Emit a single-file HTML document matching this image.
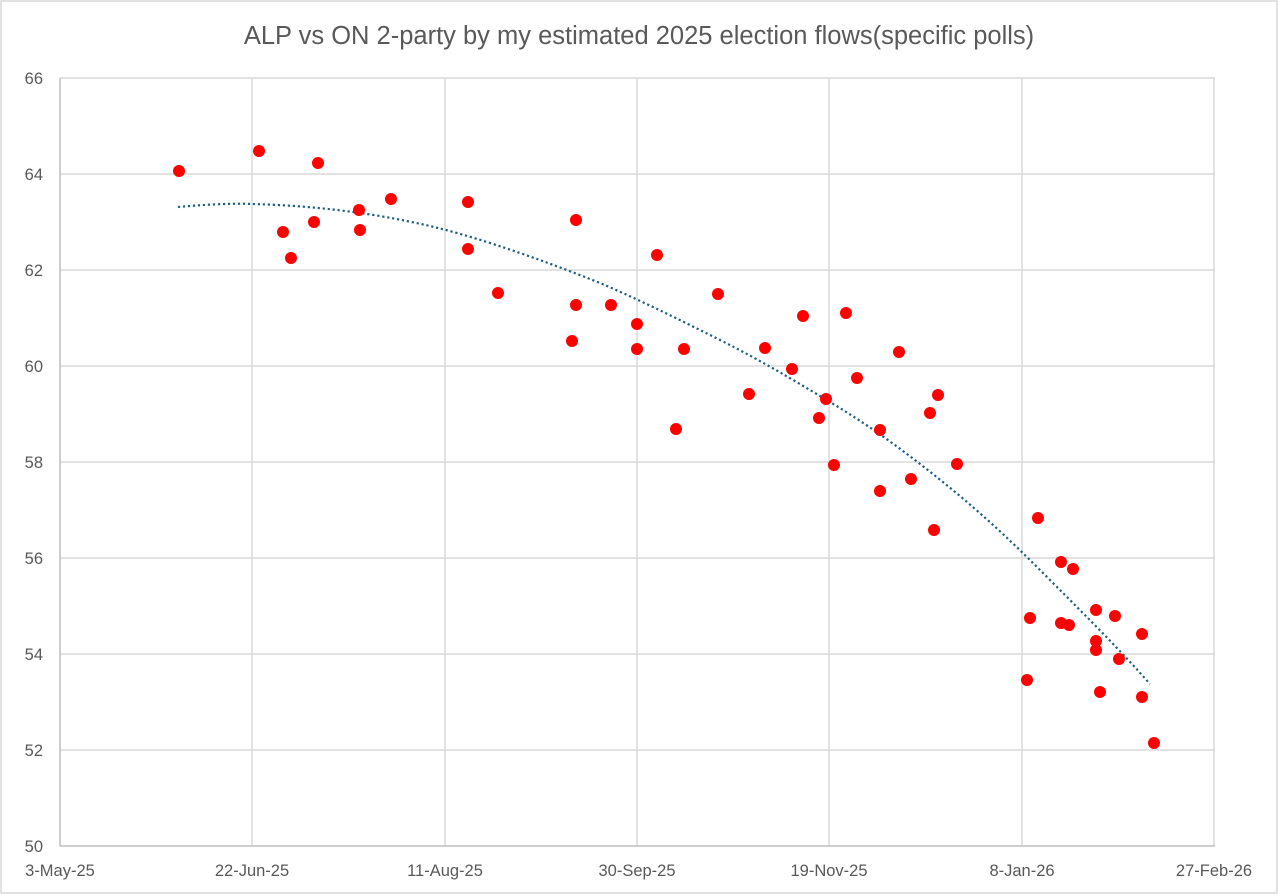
<!DOCTYPE html>
<html><head><meta charset="utf-8"><style>
body{margin:0;background:#fff}
svg{display:block;font-family:"Liberation Sans",sans-serif}
</style></head><body>
<svg width="1278" height="895" viewBox="0 0 1278 895">
<rect x="1" y="1" width="1276" height="892" fill="#fff" stroke="#d9d9d9" stroke-width="1.5"/>
<text x="639" y="44" text-anchor="middle" font-size="25.5" fill="#595959">ALP vs ON 2-party by my estimated 2025 election flows(specific polls)</text>
<g stroke="#d9d9d9" stroke-width="1.5" fill="none">
<line x1="60" y1="78" x2="1215" y2="78"/><line x1="60" y1="174" x2="1215" y2="174"/>
<line x1="60" y1="270" x2="1215" y2="270"/><line x1="60" y1="366" x2="1215" y2="366"/>
<line x1="60" y1="462" x2="1215" y2="462"/><line x1="60" y1="558" x2="1215" y2="558"/>
<line x1="60" y1="654" x2="1215" y2="654"/><line x1="60" y1="750" x2="1215" y2="750"/>
<line x1="252" y1="78" x2="252" y2="846"/><line x1="445" y1="78" x2="445" y2="846"/>
<line x1="637" y1="78" x2="637" y2="846"/><line x1="829" y1="78" x2="829" y2="846"/>
<line x1="1022" y1="78" x2="1022" y2="846"/><line x1="1214" y1="78" x2="1214" y2="846"/>
</g>
<g stroke="#bfbfbf" stroke-width="1.5"><line x1="60" y1="78" x2="60" y2="846"/><line x1="60" y1="846" x2="1215" y2="846"/></g>
<g font-size="16.5" fill="#595959" text-anchor="end">
<text x="43" y="84">66</text><text x="43" y="180">64</text><text x="43" y="276">62</text><text x="43" y="372">60</text>
<text x="43" y="468">58</text><text x="43" y="564">56</text><text x="43" y="660">54</text><text x="43" y="756">52</text><text x="43" y="852">50</text>
</g>
<g font-size="16.5" fill="#595959" text-anchor="middle">
<text x="60" y="876">3-May-25</text><text x="252" y="876">22-Jun-25</text><text x="445" y="876">11-Aug-25</text>
<text x="637" y="876">30-Sep-25</text><text x="829" y="876">19-Nov-25</text><text x="1022" y="876">8-Jan-26</text><text x="1214" y="876">27-Feb-26</text>
</g>
<path d="M178,207 C200,205 230,203 252,204 C290,205 330,208 380,216 C420,223 450,230 490,243 C530,256 560,267 600,283 C640,300 680,320 720,340 C760,360 790,378 830,402 C880,432 920,463 960,496 C1000,530 1020,550 1050,580 C1090,620 1120,650 1150,684" fill="none" stroke="#1f5f7f" stroke-width="2.2" stroke-dasharray="2.2 2.8"/>
<g fill="#ff0000">
<circle cx="179" cy="171" r="6"/><circle cx="259" cy="151" r="6"/><circle cx="283" cy="232" r="6"/><circle cx="291" cy="258" r="6"/>
<circle cx="314" cy="222" r="6"/><circle cx="318" cy="163" r="6"/><circle cx="359" cy="210" r="6"/><circle cx="360" cy="230" r="6"/>
<circle cx="391" cy="199" r="6"/><circle cx="468" cy="202" r="6"/><circle cx="468" cy="249" r="6"/><circle cx="498" cy="293" r="6"/>
<circle cx="572" cy="341" r="6"/><circle cx="576" cy="220" r="6"/><circle cx="576" cy="305" r="6"/><circle cx="611" cy="305" r="6"/>
<circle cx="637" cy="324" r="6"/><circle cx="637" cy="349" r="6"/><circle cx="657" cy="255" r="6"/><circle cx="676" cy="429" r="6"/>
<circle cx="684" cy="349" r="6"/><circle cx="718" cy="294" r="6"/><circle cx="749" cy="394" r="6"/><circle cx="765" cy="348" r="6"/>
<circle cx="792" cy="369" r="6"/><circle cx="803" cy="316" r="6"/><circle cx="819" cy="418" r="6"/><circle cx="826" cy="399" r="6"/>
<circle cx="834" cy="465" r="6"/><circle cx="846" cy="313" r="6"/><circle cx="857" cy="378" r="6"/><circle cx="880" cy="430" r="6"/>
<circle cx="880" cy="491" r="6"/><circle cx="899" cy="352" r="6"/><circle cx="911" cy="479" r="6"/><circle cx="930" cy="413" r="6"/>
<circle cx="934" cy="530" r="6"/><circle cx="938" cy="395" r="6"/><circle cx="957" cy="464" r="6"/>
<circle cx="1027" cy="680" r="6"/><circle cx="1030" cy="618" r="6"/><circle cx="1038" cy="518" r="6"/><circle cx="1061" cy="562" r="6"/>
<circle cx="1061" cy="623" r="6"/><circle cx="1069" cy="625" r="6"/><circle cx="1073" cy="569" r="6"/><circle cx="1096" cy="610" r="6"/>
<circle cx="1096" cy="641" r="6"/><circle cx="1096" cy="650" r="6"/><circle cx="1100" cy="692" r="6"/><circle cx="1115" cy="616" r="6"/>
<circle cx="1119" cy="659" r="6"/><circle cx="1142" cy="634" r="6"/><circle cx="1142" cy="697" r="6"/><circle cx="1154" cy="743" r="6"/>
</g>
</svg>
</body></html>
